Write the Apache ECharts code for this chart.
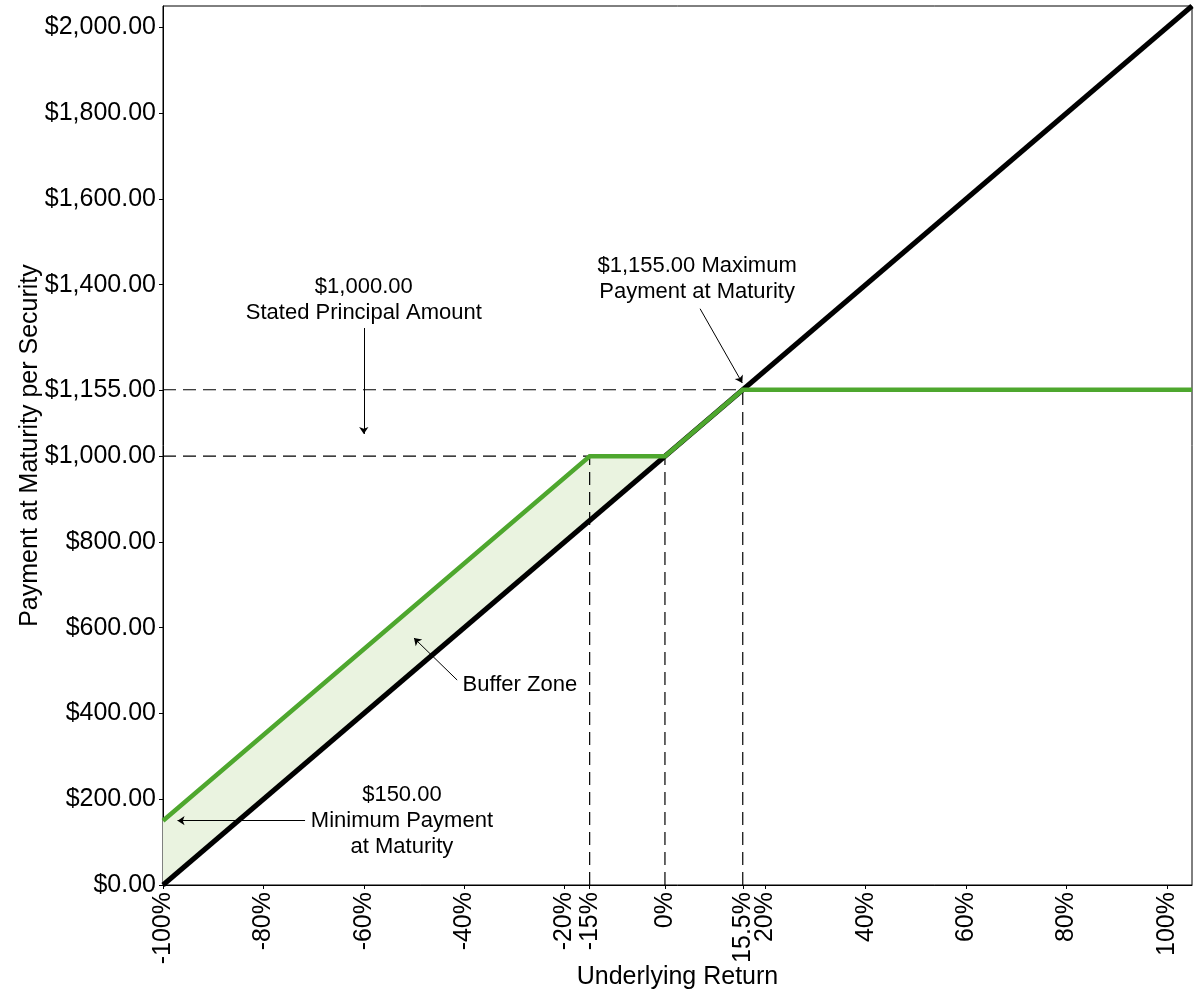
<!DOCTYPE html>
<html>
<head>
<meta charset="utf-8">
<script src="https://cdn.jsdelivr.net/npm/echarts@6/dist/echarts.min.js"></script>
<style>html,body{margin:0;padding:0;background:#fff}#chart{width:1200px;height:1000px}</style>
</head>
<body>
<div id="chart"></div>
<script>
// ---- data ----
const xTickValues = [-100, -80, -60, -40, -20, -15, 0, 15.5, 20, 40, 60, 80, 100];
const yTickValues = [0, 200, 400, 600, 800, 1000, 1155, 1400, 1600, 1800, 2000];
const underlyingReturn = [-100, 105];
const underlyingPayment = [0, 2050];
const securityReturn = [-100, -15, 0, 15.5, 105];
const securityPayment = [150, 1000, 1000, 1155, 1155];
const bufferReturn = [-100, -15, 0];
const bufferLower = [0, 850, 1000];
const bufferUpper = [150, 1000, 1000];
const refHorizontal = [[1000, -100, -15], [1155, -100, 15.5]];   // [level, fromX, toX]
const refVertical = [[-15, 0, 1000], [0, 0, 1000], [15.5, 0, 1155]]; // [x, fromY, toY]
const annotationTexts = [
  '$1,000.00\nStated Principal Amount',
  '$1,155.00 Maximum\nPayment at Maturity',
  'Buffer Zone',
  '$150.00\nMinimum Payment\nat Maturity'
];
const annotationAt = [[-60, 1365], [6.4, 1414], [-28.9, 467], [-52.4, 149]];
const arrowFrom = [[-60, 1299], [7.0, 1344], [-41.4, 478], [-71.7, 150]];
const arrowTo = [[-60, 1052], [15.4, 1171], [-50.0, 576], [-97.1, 150]];

const FONT = "'Liberation Sans', Arial, sans-serif";
const GREEN = '#4ea72e';
const FILL = '#eaf3e0';

function zipXY(xs, ys) { return xs.map((x, i) => [x, ys[i]]); }
function fmtMoney(v) {
  return '$' + Number(v).toLocaleString('en-US', {minimumFractionDigits: 2, maximumFractionDigits: 2});
}

const dashedSeries = [];
refHorizontal.forEach(r => dashedSeries.push({
  type: 'line', data: [[r[1], r[0]], [r[2], r[0]]], symbol: 'none', silent: true, z: 2,
  lineStyle: {color: '#000', width: 1.2, type: [13, 7]}
}));
refVertical.forEach(r => dashedSeries.push({
  type: 'line', data: [[r[0], r[1]], [r[0], r[2]]], symbol: 'none', silent: true, z: 2,
  lineStyle: {color: '#000', width: 1.2, type: [13, 7]}
}));

// polygon of the buffer zone: upper edge forward, lower edge backward
const bufferPolygon = zipXY(bufferReturn, bufferUpper)
  .concat(zipXY(bufferReturn, bufferLower).reverse());

const option = {
  animation: false,
  backgroundColor: '#fff',
  textStyle: {fontFamily: FONT},
  grid: {left: 163, right: 8, top: 6, bottom: 115, show: true, borderColor: '#000', borderWidth: 1, containLabel: false},
  xAxis: {
    type: 'value', min: -100, max: 105,
    name: 'Underlying Return', nameLocation: 'middle', nameGap: 80, nameMoveOverlap: false,
    nameTextStyle: {fontSize: 25, color: '#000', fontFamily: FONT},
    axisLine: {show: true, onZero: false, lineStyle: {color: '#000', width: 1}},
    axisTick: {show: true, length: 4, customValues: xTickValues, lineStyle: {color: '#000'}},
    axisLabel: {customValues: xTickValues, rotate: 90, margin: 7, fontSize: 25, color: '#000', fontFamily: FONT,
      formatter: v => v + '%'},
    splitLine: {show: false}
  },
  yAxis: {
    type: 'value', min: 0, max: 2050,
    name: 'Payment at Maturity per Security', nameLocation: 'middle', nameGap: 120, nameMoveOverlap: false,
    nameTextStyle: {fontSize: 25, color: '#000', fontFamily: FONT},
    axisLine: {show: true, onZero: false, lineStyle: {color: '#000', width: 1}},
    axisTick: {show: true, length: 4, customValues: yTickValues, lineStyle: {color: '#000'}},
    axisLabel: {customValues: yTickValues, margin: 7, fontSize: 25, color: '#000', fontFamily: FONT,
      formatter: v => fmtMoney(v)},
    splitLine: {show: false}
  },
  series: [
    {type: 'custom', silent: true, z: 1, data: [0],
      renderItem: function (params, api) {
        return {
          type: 'polygon',
          shape: {points: bufferPolygon.map(p => api.coord(p))},
          style: {fill: FILL, stroke: null}
        };
      }
    },
    ...dashedSeries,
    {type: 'line', data: zipXY(underlyingReturn, underlyingPayment), symbol: 'none', silent: true, z: 3,
      lineStyle: {color: '#000', width: 5}},
    {type: 'line', data: zipXY(securityReturn, securityPayment), symbol: 'none', silent: true, z: 4,
      lineStyle: {color: GREEN, width: 4.5, join: 'miter'}},
    {type: 'scatter', silent: true, z: 5, symbolSize: 1, itemStyle: {color: '#fff', opacity: 0},
      data: annotationAt.map((p, i) => ({value: p, name: annotationTexts[i]})),
      label: {show: true, position: 'inside', formatter: p => p.name, fontSize: 22, lineHeight: 26,
        color: '#000', opacity: 1, textBorderWidth: 0, textBorderColor: 'transparent',
        fontFamily: FONT, align: 'center', verticalAlign: 'middle'},
      markLine: {
        silent: true, symbol: ['none', 'arrow'], symbolSize: 7, animation: false,
        label: {show: false}, emphasis: {disabled: true},
        lineStyle: {color: '#000', width: 1, type: 'solid', opacity: 1},
        data: arrowFrom.map((f, i) => [{coord: f}, {coord: arrowTo[i]}])
      }
    }
  ]
};

const chart = echarts.init(document.getElementById('chart'), null, {renderer: 'canvas'});
chart.setOption(option);
</script>
</body>
</html>
